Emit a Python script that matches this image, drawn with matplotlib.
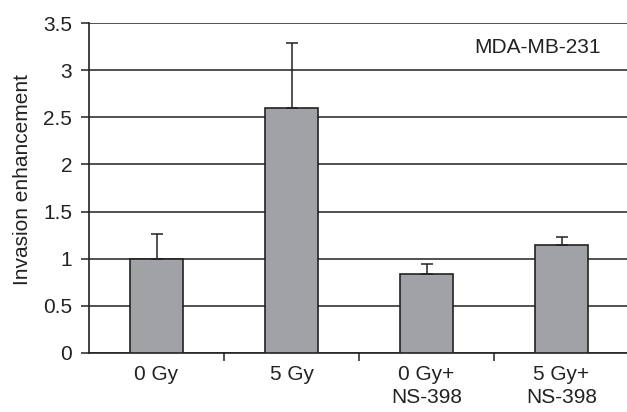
import numpy as np
import matplotlib.pyplot as plt
import matplotlib.transforms as mtransforms

categories = ["0 Gy", "5 Gy", "0 Gy+\nNS-398", "5 Gy+\nNS-398"]
values = [1.0, 2.6, 0.84, 1.15]
err_upper = [0.26, 0.69, 0.10, 0.08]

plt.rcParams['font.family'] = ['Liberation Sans', 'DejaVu Sans']

fig = plt.figure(figsize=(6.27, 4.12), dpi=100)
ax = fig.add_axes([89 / 627, 59 / 412, 540 / 627, 330 / 412])

x = np.arange(len(categories))
ax.bar(x, values, width=0.39, color="#a0a2a5", edgecolor="#222222", linewidth=1.2,
       yerr=[np.zeros(len(values)), err_upper], capsize=4.5,
       error_kw=dict(ecolor="#222222", elinewidth=1.1, capthick=1.1), zorder=3)

ax.set_ylim(0, 3.5)
ax.set_xlim(-0.5, len(categories) - 0.5)
ax.set_yticks(np.arange(0, 3.51, 0.5))
ax.set_yticklabels(["0", "0.5", "1", "1.5", "2", "2.5", "3", "3.5"])
ax.yaxis.grid(True, color="#222222", linewidth=1.1, zorder=0)
ax.set_axisbelow(True)

fs = 15
ax.set_xticks(x)
ax.set_xticklabels(categories, fontsize=fs, color="#222222", linespacing=1.25)
ax.set_xticks(np.arange(0.5, len(categories) - 0.5), minor=True)
ax.tick_params(axis="x", which="major", length=0, pad=9)
ax.tick_params(axis="x", which="minor", length=6, width=1.1, color="#222222")
ax.tick_params(axis="y", length=6, width=1.1, color="#222222", labelsize=fs,
               labelcolor="#222222", pad=6)

for s in ["top", "right"]:
    ax.spines[s].set_visible(False)
for s in ["left", "bottom"]:
    ax.spines[s].set_color("#222222")
    ax.spines[s].set_linewidth(1.2)

ax.set_ylabel("Invasion enhancement", fontsize=fs, color="#222222")
ax.yaxis.set_label_coords(-0.105, 0.527)
trans = mtransforms.blended_transform_factory(ax.transAxes, ax.transData)
ax.text(0.948, 3.245, "MDA-MB-231", transform=trans,
        ha="right", va="center", fontsize=fs, color="#222222")

fig.savefig("out.png", dpi=100)
